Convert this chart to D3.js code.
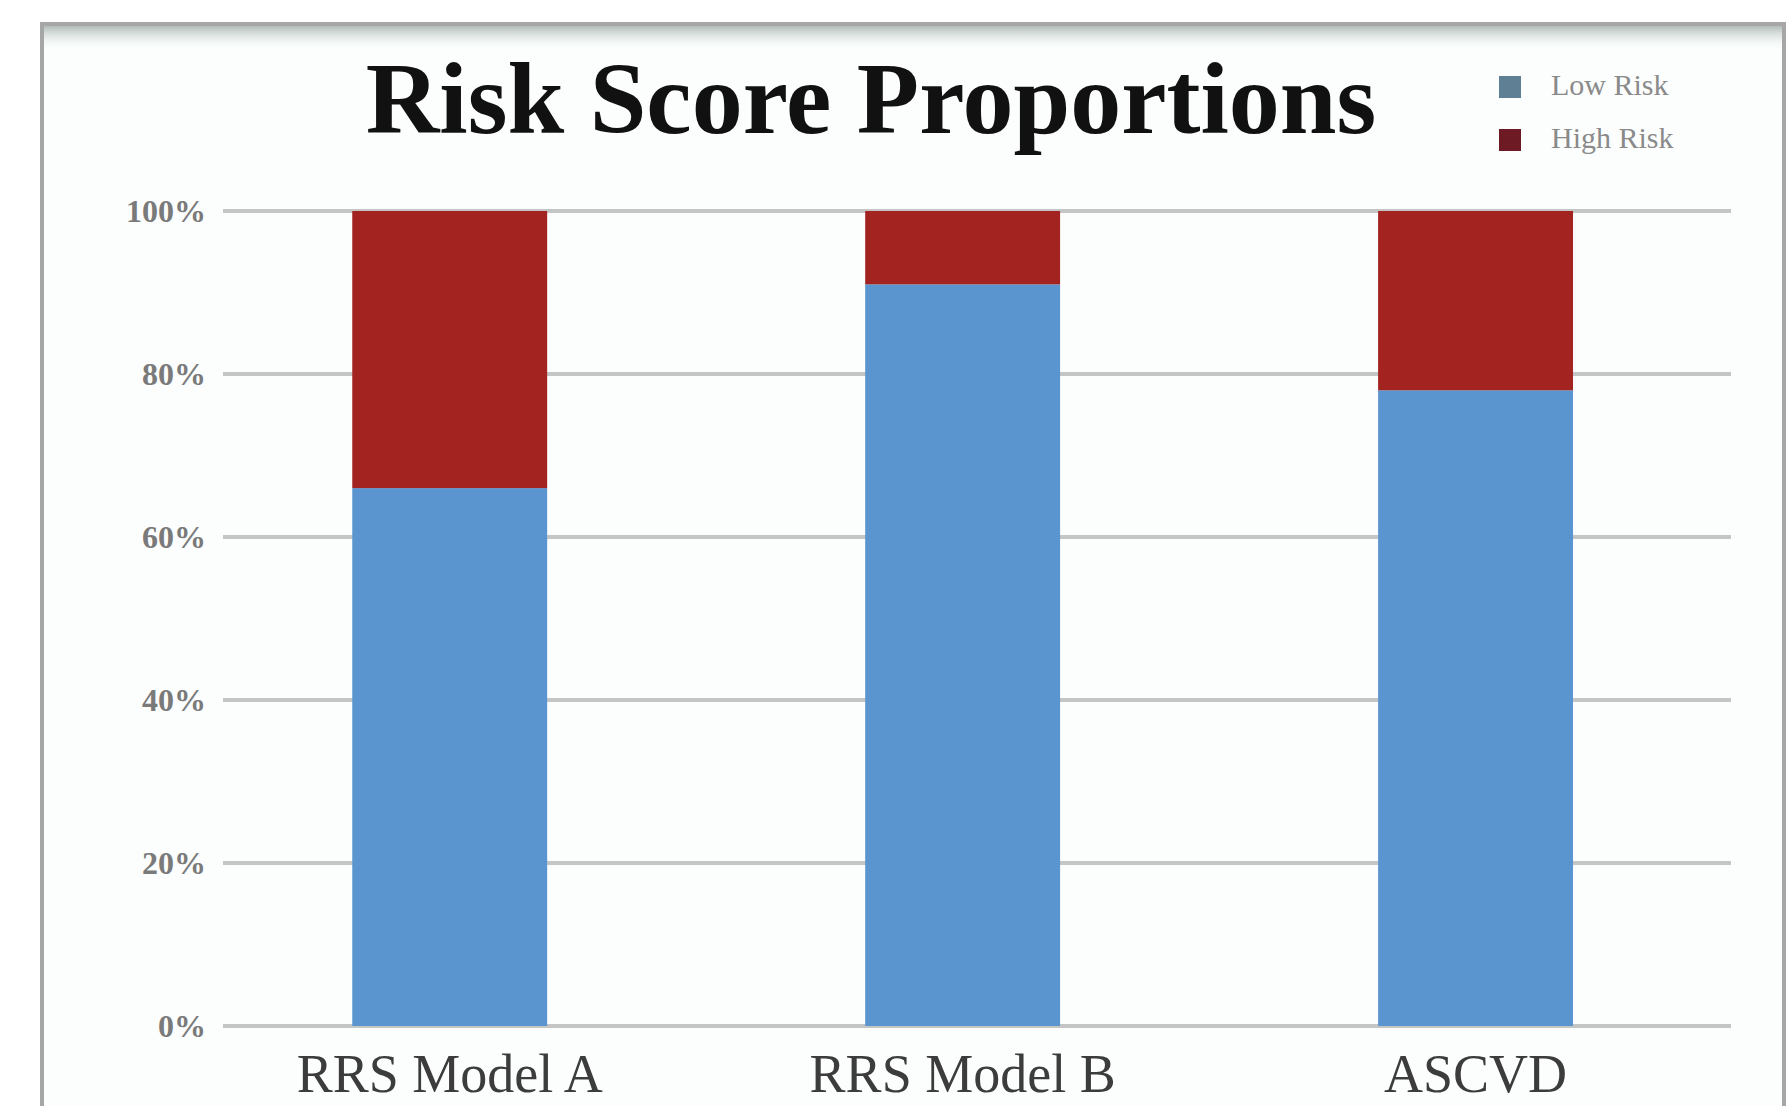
<!DOCTYPE html>
<html>
<head>
<meta charset="utf-8">
<title>Risk Score Proportions</title>
<script src="https://cdn.jsdelivr.net/npm/d3@7"></script>
<style>
	html, body { margin: 0; padding: 0; background: #ffffff; overflow: hidden; }
	svg { display: block; }
</style>
</head>
<body>
<div id="chart"></div>
<script>
var categories = ["RRS Model A", "RRS Model B", "ASCVD"];
var seriesNames = ["Low Risk", "High Risk"];
var lowRisk = [0.66, 0.91, 0.78];
var highRisk = [0.34, 0.09, 0.22];
var yTicks = [0, 0.2, 0.4, 0.6, 0.8, 1.0];
var yTickLabels = ["0%", "20%", "40%", "60%", "80%", "100%"];

var RiskChart = (function () {
	function RiskChart() {
	}

	var width = 1792;
	var height = 1106;
	var colors = { "Low Risk": "#5b95d0", "High Risk": "#a2231f" };

	RiskChart.draw = function (elementId) {
		var svg = d3.select("#" + elementId).append("svg")
			.attr("width", width)
			.attr("height", height);

		var defs = svg.append("defs");
		var grad = defs.append("linearGradient")
			.attr("id", "topShade")
			.attr("x1", 0).attr("y1", 0).attr("x2", 0).attr("y2", 1);
		grad.append("stop").attr("offset", "0%").attr("stop-color", "#a9b4b0").attr("stop-opacity", 0.9);
		grad.append("stop").attr("offset", "100%").attr("stop-color", "#f4fbf9").attr("stop-opacity", 0);

		// frame round the chart
		svg.append("rect")
			.attr("x", 42).attr("y", 24)
			.attr("width", 1742).attr("height", 1200)
			.attr("fill", "#fcfefe")
			.attr("stroke", "#a6a6a6")
			.attr("stroke-width", 4);
		svg.append("rect")
			.attr("x", 44).attr("y", 26)
			.attr("width", 1738).attr("height", 24)
			.attr("fill", "url(#topShade)");

		var x = d3.scaleBand()
			.domain(categories)
			.range([223, 1731])
			.paddingInner(0.62)
			.paddingOuter(0.28)
			.align(0.45);

		var y = d3.scaleLinear()
			.domain([0, 1])
			.range([1026, 211]);

		// gridlines
		svg.append("g")
			.selectAll("line")
			.data(yTicks)
			.enter()
				.append("line")
					.attr("x1", 223)
					.attr("x2", 1731)
					.attr("y1", function (d) { return y(d); })
					.attr("y2", function (d) { return y(d); })
					.attr("stroke", "#c4c6c6")
					.attr("stroke-width", 4);

		// y axis labels
		var yAxis = d3.axisLeft(y)
			.tickValues(yTicks)
			.tickSize(0)
			.tickPadding(0)
			.tickFormat(function (d, i) { return yTickLabels[i]; });
		var gy = svg.append("g")
			.attr("transform", "translate(206,0)")
			.call(yAxis);
		gy.select(".domain").remove();
		gy.selectAll("text")
			.attr("font-family", "Liberation Serif, serif")
			.attr("font-weight", "bold")
			.attr("font-size", 32)
			.attr("fill", "#7a7a7a");

		// stacked bars
		var rows = categories.map(function (c, i) {
			return { category: c, "Low Risk": lowRisk[i], "High Risk": highRisk[i] };
		});
		var stack = d3.stack().keys(seriesNames)(rows);

		svg.append("g")
			.selectAll("g")
			.data(stack)
			.enter()
				.append("g")
					.attr("fill", function (d) { return colors[d.key]; })
					.selectAll("rect")
					.data(function (d) { return d; })
					.enter()
						.append("rect")
							.attr("x", function (d) { return x(d.data.category); })
							.attr("y", function (d) { return y(d[1]); })
							.attr("width", x.bandwidth())
							.attr("height", function (d) { return y(d[0]) - y(d[1]); });

		// category labels
		var xAxis = d3.axisBottom(x).tickSize(0).tickPadding(0);
		var gx = svg.append("g")
			.attr("transform", "translate(0,1026)")
			.call(xAxis);
		gx.select(".domain").remove();
		gx.selectAll("text")
			.attr("dy", 0)
			.attr("y", 66)
			.attr("font-family", "Liberation Serif, serif")
			.attr("font-size", 54)
			.attr("fill", "#3c3c3c");

		// title
		svg.append("text")
			.attr("x", 871)
			.attr("y", 133)
			.attr("text-anchor", "middle")
			.attr("font-family", "Liberation Serif, serif")
			.attr("font-weight", "bold")
			.attr("font-size", 102)
			.attr("fill", "#111111")
			.text("Risk Score Proportions");

		// legend
		var legend = svg.append("g")
			.selectAll("g")
			.data(seriesNames)
			.enter()
				.append("g")
					.attr("transform", function (d, i) { return "translate(1499," + (76 + i * 53) + ")"; });
		legend.append("rect")
			.attr("width", 22)
			.attr("height", 22)
			.attr("fill", function (d) { return d === "Low Risk" ? "#5f7f94" : "#6e1a24"; });
		legend.append("text")
			.attr("x", 52)
			.attr("y", 19)
			.attr("font-family", "Liberation Serif, serif")
			.attr("font-size", 30)
			.attr("fill", "#8a8a8a")
			.text(function (d) { return d; });
	};

	return RiskChart;
})();

RiskChart.draw("chart");
</script>
</body>
</html>
